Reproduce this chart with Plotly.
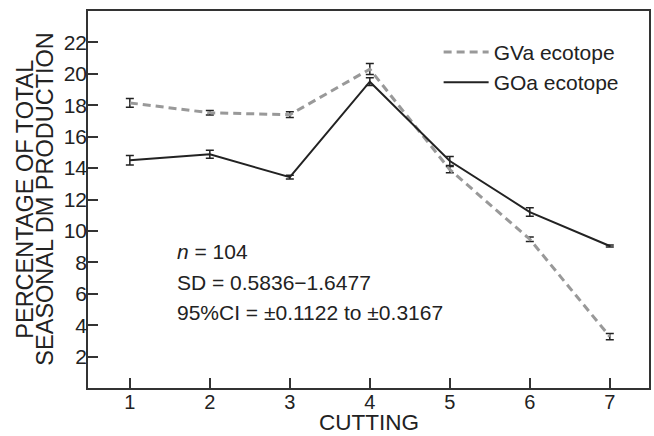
import plotly.graph_objects as go

cutting = [1, 2, 3, 4, 5, 6, 7]
gva_values = [18.15, 17.52, 17.4, 20.3, 13.9, 9.47, 3.27]
gva_err = [0.28, 0.14, 0.18, 0.35, 0.2, 0.14, 0.2]
goa_values = [14.5, 14.88, 13.42, 19.5, 14.45, 11.2, 9.04]
goa_err = [0.3, 0.25, 0.12, 0.25, 0.28, 0.27, 0.07]
y_ticks = [2, 4, 6, 8, 10, 12, 14, 16, 18, 20, 22]
stats_lines = ["<i>n</i> = 104", "SD = 0.5836\u22121.6477", "95%CI = \u00b10.1122 to \u00b10.3167"]
y_title_lines = ["PERCENTAGE OF TOTAL", "SEASONAL DM PRODUCTION"]
x_title = "CUTTING"

FONT = "Liberation Sans, Arial, sans-serif"
INK = "#222222"

fig = go.Figure()
fig.add_trace(go.Scatter(
    x=cutting, y=gva_values, name="GVa ecotope", mode="lines",
    line=dict(color="#999999", width=3, dash="8px,5px"),
    error_y=dict(type="data", array=gva_err, visible=True, color=INK, thickness=1.5, width=4),
))
fig.add_trace(go.Scatter(
    x=cutting, y=goa_values, name="GOa ecotope", mode="lines",
    line=dict(color=INK, width=2),
    error_y=dict(type="data", array=goa_err, visible=True, color=INK, thickness=1.5, width=4),
))

stats_y = [0.361, 0.281, 0.199]
for t, yy in zip(stats_lines, stats_y):
    fig.add_annotation(x=0.155, y=yy, xref="paper", yref="paper",
                       text=t, showarrow=False, xanchor="left", yanchor="middle",
                       font=dict(family=FONT, size=21, color=INK))

for t, xx in zip(y_title_lines, [-0.1137, -0.0782]):
    fig.add_annotation(x=xx, y=0.5, xref="paper", yref="paper",
                       text=t, showarrow=False, textangle=-90, xanchor="center", yanchor="middle",
                       font=dict(family=FONT, size=23.5, color=INK))

fig.add_annotation(x=0.5, y=-0.1273, xref="paper", yref="paper", text=x_title,
                   showarrow=False, xanchor="center", yanchor="bottom", borderpad=0,
                   font=dict(family=FONT, size=22.5, color=INK))

fig.update_layout(
    width=654, height=436,
    margin=dict(l=88, r=3, t=11, b=48),
    paper_bgcolor="white", plot_bgcolor="white",
    font=dict(family=FONT, size=21, color=INK),
    showlegend=True,
    legend=dict(x=0.625, y=0.945, xanchor="left", yanchor="top", itemwidth=45,
                bgcolor="rgba(0,0,0,0)", font=dict(size=21), tracegroupgap=0),
    xaxis=dict(range=[0.477, 7.49], tickvals=cutting, ticks="inside", ticklen=10,
               tickcolor="#333333", tickwidth=1.5, showline=True, linecolor="#333333",
               linewidth=1.5, mirror=True, showgrid=False, zeroline=False,
               tickfont=dict(size=20), ticklabelstandoff=-5),
    yaxis=dict(range=[0, 24], tickvals=y_ticks, ticks="inside", ticklen=10,
               tickcolor="#333333", tickwidth=1.5, showline=True, linecolor="#333333",
               linewidth=1.5, mirror=True, showgrid=False, zeroline=False,
               ticklabelstandoff=-5),
)

fig.write_html("out.html", config={"displayModeBar": False},
               post_script="document.body.style.margin='0';")
